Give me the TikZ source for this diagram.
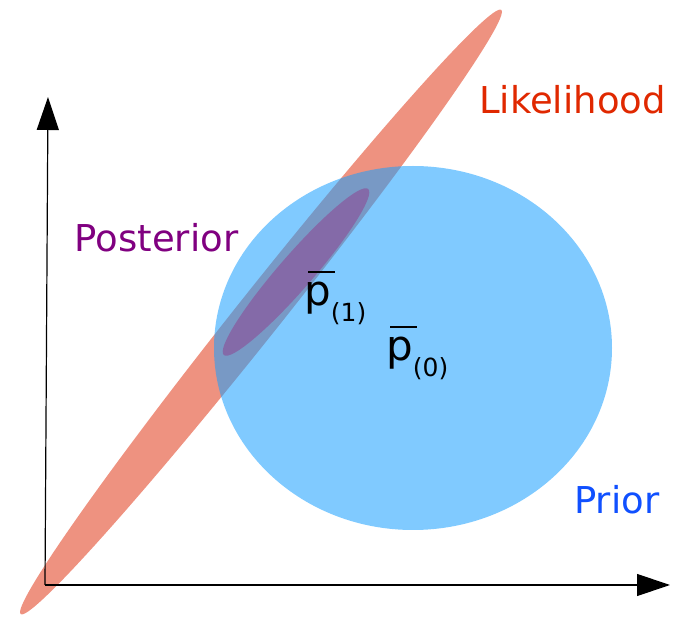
\documentclass[tikz,border=0pt]{standalone}
\usepackage{fontspec}
\setmainfont{DejaVu Sans}
\usetikzlibrary{arrows.meta}
\definecolor{likec}{RGB}{238,146,128}
\definecolor{priorc}{RGB}{24,159,255}
\definecolor{postc}{RGB}{135,98,163}
\definecolor{liketext}{RGB}{224,40,0}
\definecolor{posttext}{RGB}{128,0,128}
\definecolor{priortext}{RGB}{16,80,255}
\newcommand\mypbar[1]{{\fontsize{42}{44}\selectfont\rlap{\hspace{4pt}\raisebox{33pt}{\rule{27pt}{1.6pt}}}p}\raisebox{-16pt}{\fontsize{25}{27}\selectfont(#1)}}
\tikzset{
  axis/.style={line width=1.2pt, draw=black, -{Triangle[length=33pt,width=22pt]}},
  lbl/.style={anchor=base west, inner sep=0pt, font=\fontsize{37}{40}\selectfont},
  pb/.style={anchor=base west, inner sep=0pt}
}
\begin{document}
\begin{tikzpicture}[x=1pt,y=-1pt]
\useasboundingbox (0,0) rectangle (673,617);
\coordinate (lc) at (261,312);
\coordinate (pc) at (413,348);
\coordinate (qc) at (296,272);
\fill[likec, rotate around={51.5:(lc)}] (lc) ellipse [x radius=386, y radius=22.5];
\fill[priorc, opacity=0.55] (pc) ellipse [x radius=199, y radius=182];
\fill[postc, opacity=0.85, rotate around={49:(qc)}] (qc) ellipse [x radius=110, y radius=17];
\coordinate (O) at (45,585);
\coordinate (X) at (670,585);
\coordinate (Y) at (48,97);
\draw[axis] (O) -- (X);
\draw[axis] (O) -- (Y);
\node[lbl, text=liketext] (like) at (479,114) {Likelihood};
\node[lbl, text=posttext] (post) at (74.5,252) {Posterior};
\node[lbl, text=priortext] (prior) at (574,514) {Prior};
\node[pb] (p1) at (304,306) {\mypbar{1}};
\node[pb] (p0) at (386,361) {\mypbar{0}};
\end{tikzpicture}
\end{document}
